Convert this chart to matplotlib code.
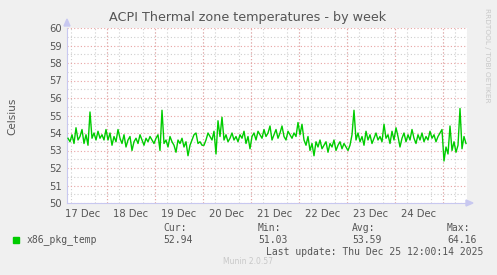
import numpy as np
import matplotlib
matplotlib.use("Agg")
import matplotlib.pyplot as plt
from matplotlib.ticker import MultipleLocator, FixedLocator

# === DATA (hourly samples) ===
start_hour = 4  # hours after 17 Dec 00:00
temps = [
    # 17 Dec 04:00 -> 23:00
    53.7, 53.5, 53.9, 53.4, 54.3, 53.6, 53.8, 54.2, 53.4, 53.9, 53.3, 55.2, 53.7, 54.0, 53.6, 54.1, 53.7, 53.9, 53.6, 54.2,
    # 18 Dec
    53.6, 54.0, 53.3, 53.8, 53.5, 54.2, 53.7, 53.4, 53.9, 53.2, 53.6, 53.8, 53.0, 53.5, 53.7, 53.4, 53.9, 53.6, 53.3, 53.7, 53.5, 53.8, 53.6, 53.4,
    # 19 Dec
    53.7, 53.9, 53.0, 55.3, 53.4, 53.6, 53.2, 53.8, 53.5, 53.3, 52.9, 53.6, 53.4, 53.7, 53.2, 53.5, 52.7, 53.3, 53.6, 53.9, 54.0, 53.4, 53.5, 53.3,
    # 20 Dec
    53.3, 53.6, 54.0, 53.8, 53.6, 54.1, 52.8, 54.7, 53.8, 54.9, 53.6, 53.9, 53.5, 53.7, 54.0, 53.6, 53.8, 53.5, 53.9, 53.7, 54.1, 53.4, 53.8, 53.1,
    # 21 Dec
    53.8, 54.0, 53.6, 54.1, 53.9, 53.7, 54.2, 53.8, 54.0, 54.4, 53.6, 53.9, 54.2, 53.7, 54.0, 54.4, 53.8, 53.6, 54.1, 53.9, 53.7, 54.0, 53.8, 54.6,
    # 22 Dec
    53.9, 54.5, 53.6, 53.3, 53.8, 53.0, 53.4, 52.7, 53.5, 53.2, 53.6, 53.1, 53.3, 53.5, 52.9, 53.4, 53.2, 53.6, 53.0, 53.3, 53.5, 53.1, 53.4, 53.2,
    # 23 Dec
    53.0, 53.3, 53.9, 55.3, 53.6, 54.0, 53.5, 53.8, 53.3, 54.1, 53.6, 53.9, 53.4, 53.7, 54.0, 53.6, 53.8, 53.5, 54.5, 53.7, 53.9, 53.4, 54.1, 53.6,
    # 24 Dec
    54.3, 53.8, 53.2, 53.7, 54.0, 53.5, 53.9, 53.6, 54.2, 53.7, 53.4, 53.9, 53.6, 54.0, 53.5, 53.8, 53.6, 54.1, 53.7, 53.9, 53.5, 53.8, 54.0, 54.2,
    # 25 Dec 00:00 -> 11:00
    52.4, 53.2, 52.8, 54.4, 53.0, 53.5, 52.9, 53.3, 55.4, 53.1, 53.8, 53.4,
]
day_labels = ["17 Dec", "18 Dec", "19 Dec", "20 Dec", "21 Dec", "22 Dec", "23 Dec", "24 Dec"]
series_name = "x86_pkg_temp"
stats_names = ["Cur:", "Min:", "Avg:", "Max:"]
stats_values = ["52.94", "51.03", "53.59", "64.16"]

hours = start_hour + np.arange(len(temps)) + 0.5

# === STYLE ===
bg = "#F0F0F0"
txt = "#555555"
major_c = "#E9A3A3"
minor_c = "#CFCFCF"
axis_c = "#C8C8F0"

fig = plt.figure(figsize=(4.97, 2.75), dpi=100, facecolor=bg)
W, H = 497, 275
x0, x1, y0, y1 = 67, 467, 28, 203
ax = fig.add_axes([x0 / W, 1 - y1 / H, (x1 - x0) / W, (y1 - y0) / H])
ax.set_facecolor("white")

ax.set_xlim(start_hour, 24 * 8 + 12)
ax.set_ylim(50, 60)

# grid
ax.yaxis.set_major_locator(MultipleLocator(1))
ax.yaxis.set_minor_locator(MultipleLocator(0.5))
ax.xaxis.set_major_locator(FixedLocator([24 * k for k in range(1, 9)]))
ax.xaxis.set_minor_locator(MultipleLocator(6))
ax.grid(which="minor", color=minor_c, linestyle=(0, (1, 2)), lw=0.8)
ax.grid(which="major", color=major_c, linestyle=(0, (1, 2)), lw=0.8)
ax.set_axisbelow(True)

ax.plot(hours, temps, color="#00CC00", lw=1.0, zorder=3)

# ticks
ax.set_xticks([24 * k + 12 for k in range(8)], labels=day_labels, minor=False)
ax.xaxis.set_major_locator(FixedLocator([24 * k + 12 for k in range(8)]))
for k in range(1, 9):
    ax.axvline(24 * k, color=major_c, linestyle=(0, (1, 2)), lw=0.8, zorder=1)
ax.grid(False, axis="x", which="major")
ax.tick_params(axis="both", which="both", length=0, colors=txt, labelsize=7.2)
ax.tick_params(axis="x", pad=4)
ax.tick_params(axis="y", pad=4)

for side in ["top", "right"]:
    ax.spines[side].set_visible(False)
ax.spines["left"].set_color(axis_c)
ax.spines["bottom"].set_color(axis_c)

# axis arrows
fig.patches.append(matplotlib.patches.Polygon(
    [[(x0 - 3) / W, 1 - 26 / H], [(x0 + 3) / W, 1 - 26 / H], [x0 / W, 1 - 19 / H]],
    closed=True, transform=fig.transFigure, color=axis_c))
fig.patches.append(matplotlib.patches.Polygon(
    [[(x1 - 1) / W, 1 - (y1 - 3) / H], [(x1 - 1) / W, 1 - (y1 + 3) / H], [(x1 + 6) / W, 1 - y1 / H]],
    closed=True, transform=fig.transFigure, color=axis_c))

# titles
fig.text(248 / W, 1 - 18 / H, "ACPI Thermal zone temperatures - by week",
         ha="center", va="center", color=txt, fontsize=9.2)
fig.text(12 / W, 1 - 116 / H, "Celsius", rotation=90, ha="center", va="center",
         color=txt, fontsize=7.5)
fig.text(487 / W, 1 - 55 / H, "RRDTOOL / TOBI OETIKER", rotation=270, ha="center",
         va="center", color="#C8C8C8", fontsize=5.3)

# legend
mono = "DejaVu Sans Mono"
fig.patches.append(matplotlib.patches.Rectangle(
    (13 / W, 1 - 243 / H), 6 / W, 6 / H, transform=fig.transFigure, color="#00CC00"))
fig.text(27 / W, 1 - 240 / H, series_name, family=mono, color=txt, fontsize=7, va="center")
stat_x = [163, 258, 352, 447]
for sx, name, val in zip(stat_x, stats_names, stats_values):
    fig.text(sx / W, 1 - 228 / H, name, family=mono, color=txt, fontsize=7, va="center")
    fig.text(sx / W, 1 - 240 / H, val, family=mono, color=txt, fontsize=7, va="center")
fig.text(483 / W, 1 - 252 / H, "Last update: Thu Dec 25 12:00:14 2025", family=mono,
         color=txt, fontsize=7, va="center", ha="right")
fig.text(248 / W, 1 - 262 / H, "Munin 2.0.57", color="#C8C8C8", fontsize=5.5,
         ha="center", va="center")

fig.savefig("out.png", dpi=100, facecolor=bg)
